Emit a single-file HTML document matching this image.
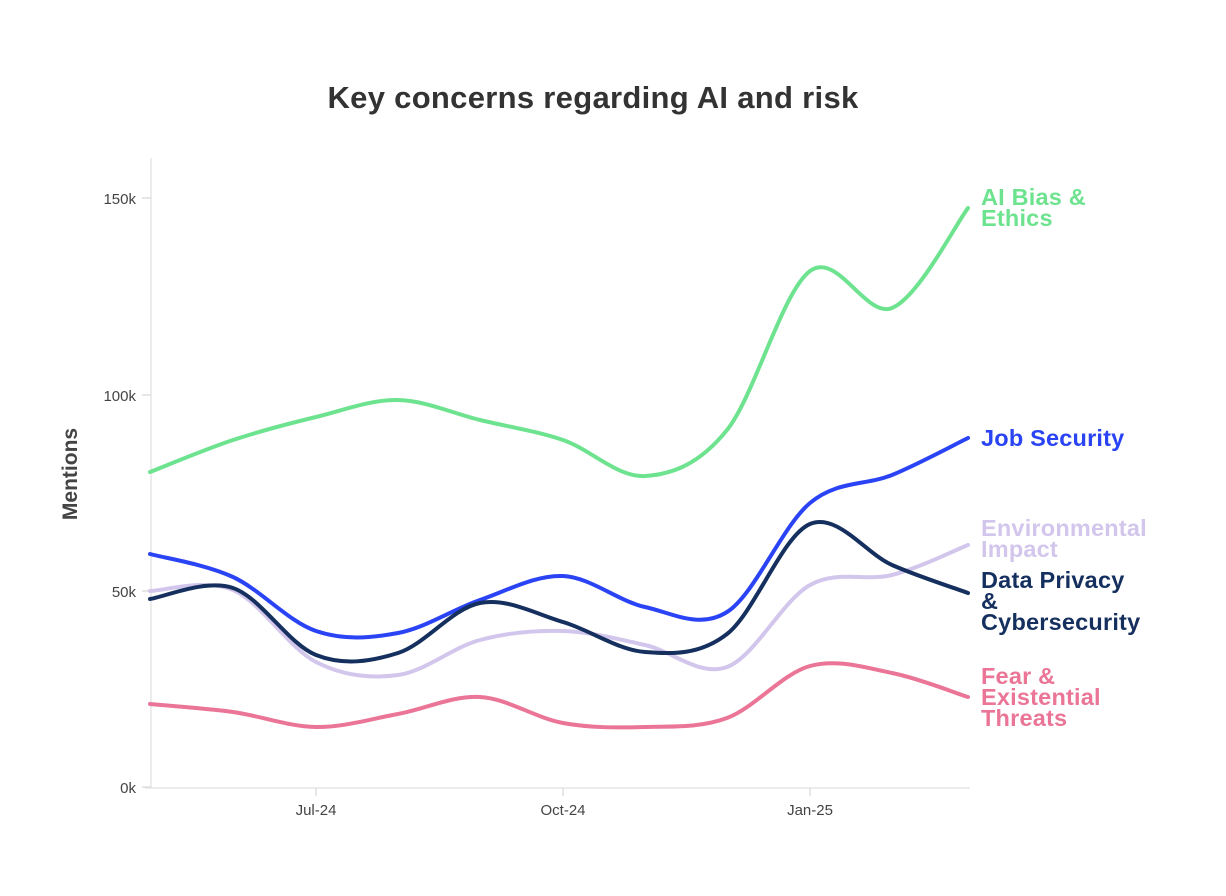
<!DOCTYPE html>
<html><head><meta charset="utf-8"><style>
body{margin:0;background:#fff;}
svg{display:block;font-family:"Liberation Sans",sans-serif;}
</style></head><body>
<svg id="c" width="1226" height="896" viewBox="0 0 1226 896">
<text x="593" y="108" text-anchor="middle" font-size="31" font-weight="bold" fill="#333" letter-spacing="0.3">Key concerns regarding AI and risk</text>
<line x1="151" y1="158" x2="151" y2="788" stroke="#e6e6e6" stroke-width="1.5"/>
<line x1="145" y1="788" x2="970" y2="788" stroke="#e6e6e6" stroke-width="1.5"/>
<g font-size="15" fill="#444" text-anchor="end">
<text x="136" y="204">150k</text><text x="136" y="401">100k</text><text x="136" y="597">50k</text><text x="136" y="793">0k</text>
</g>
<g stroke="#ddd" stroke-width="1.5">
<line x1="142" y1="198" x2="151" y2="198"/><line x1="142" y1="395" x2="151" y2="395"/><line x1="142" y1="591" x2="151" y2="591"/><line x1="142" y1="787" x2="151" y2="787"/>
<line x1="316" y1="788" x2="316" y2="796"/><line x1="563" y1="788" x2="563" y2="796"/><line x1="810" y1="788" x2="810" y2="796"/>
</g>
<g font-size="15" fill="#444" text-anchor="middle">
<text x="316" y="815">Jul-24</text><text x="563" y="815">Oct-24</text><text x="810" y="815">Jan-25</text>
</g>
<text transform="translate(77,474) rotate(-90)" text-anchor="middle" font-size="21" font-weight="bold" fill="#444">Mentions</text>
<g id="lines" fill="none" stroke-width="4" stroke-linecap="round"></g>
<g font-size="23.5" font-weight="bold" letter-spacing="0.2">
<text fill="#6ee38f" x="981" y="205">AI Bias &amp;</text><text fill="#6ee38f" x="981" y="226">Ethics</text>
<text fill="#2a44f5" x="981" y="446">Job Security</text>
<text fill="#d3c6ec" x="981" y="536">Environmental</text><text fill="#d3c6ec" x="981" y="557">Impact</text>
<text fill="#15305e" x="981" y="588">Data Privacy</text><text fill="#15305e" x="981" y="609">&amp;</text><text fill="#15305e" x="981" y="630">Cybersecurity</text>
<text fill="#ea7596" x="981" y="684">Fear &amp;</text><text fill="#ea7596" x="981" y="705">Existential</text><text fill="#ea7596" x="981" y="726">Threats</text>
</g>
</svg>
<script>
var xs=[150,233,316,398,480,563,645,727,810,892,968];
var S=[
["#d3c6ec",[591,590,662,675,640,631,645,667,585,575,545]],
["#ea7596",[704,712,727,714,697,723,727,718,666,673,697]],
["#6ee38f",[472,440,417,400,420,440,476,430,271,308,208]],
["#2a44f5",[554,577,631,633,600,576,607,612,503,475,438]],
["#15305e",[599,588,655,653,603,622,652,634,524,565,593]]];
var g=document.getElementById('lines');
S.forEach(function(s){var y=s[1],n=xs.length,d="M"+xs[0]+","+y[0];
for(var i=0;i<n-1;i++){var p0=i?i-1:i,p3=i+2<n?i+2:i+1;
var c1x=xs[i]+(xs[i+1]-xs[p0])/6,c1y=y[i]+(y[i+1]-y[p0])/6,c2x=xs[i+1]-(xs[p3]-xs[i])/6,c2y=y[i+1]-(y[p3]-y[i])/6;
d+=" C"+c1x+","+c1y+" "+c2x+","+c2y+" "+xs[i+1]+","+y[i+1];}
var p=document.createElementNS("http://www.w3.org/2000/svg","path");p.setAttribute("d",d);p.setAttribute("stroke",s[0]);g.appendChild(p);});
</script>
</body></html>
